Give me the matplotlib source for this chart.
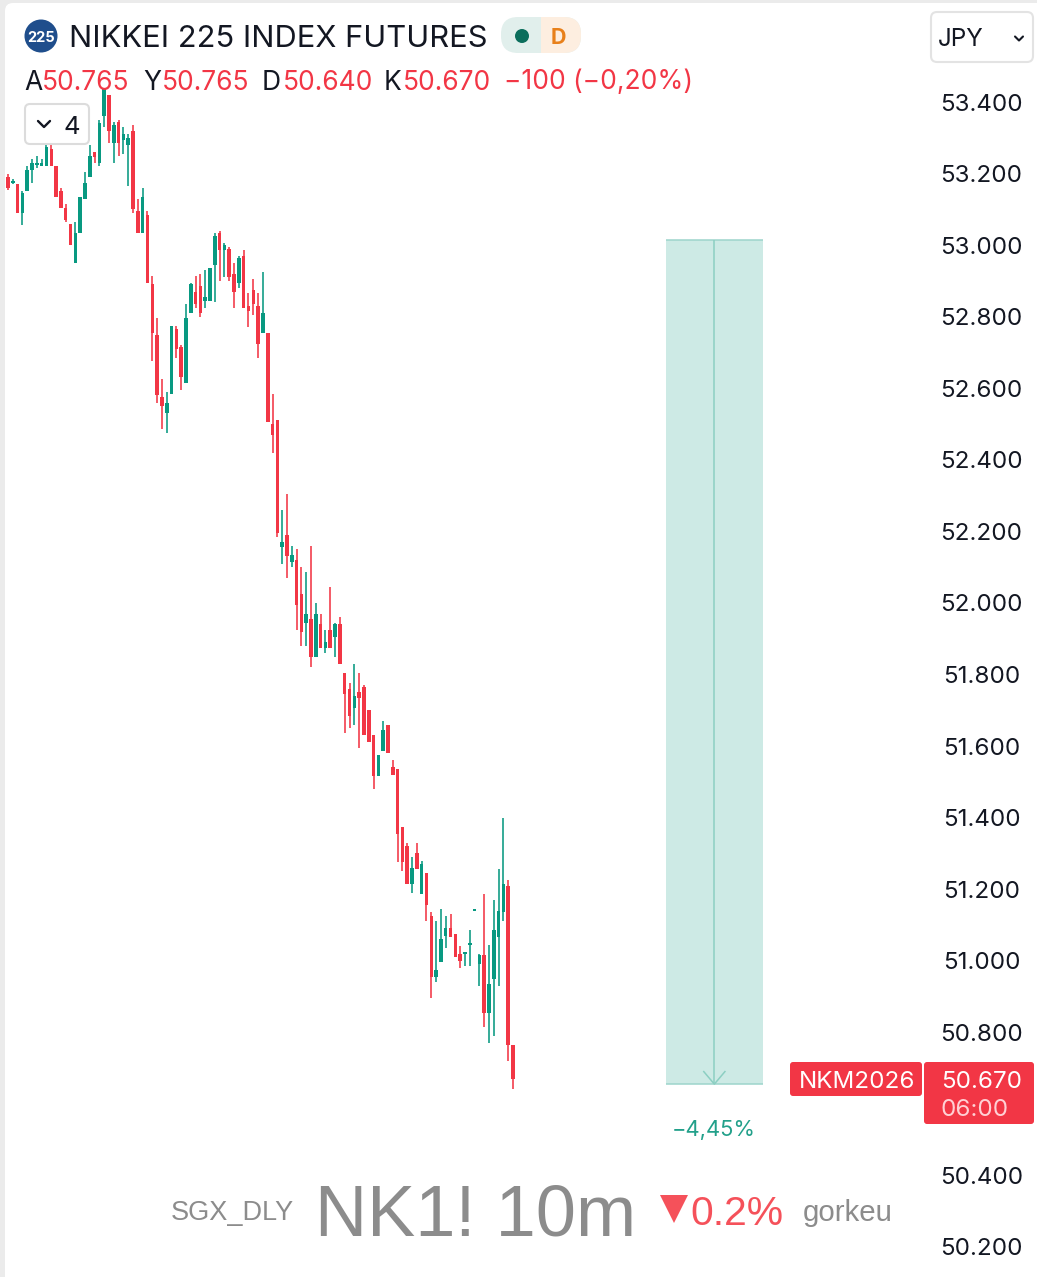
import matplotlib
matplotlib.use("Agg")
import matplotlib.pyplot as plt
from matplotlib.patches import FancyBboxPatch, Circle, Rectangle

W, H = 1037, 1277
RED = "#f23645"
GREEN = "#089981"

opens = [53190,53175,53170,53090,53150,53210,53225,53220,53220,53270,
         53220,53150,53105,53060,52950,53035,53130,53190,53260,53230,
         53360,53420,53285,53345,53295,53280,53320,53095,53035,53085,
         52890,52750,52575,52530,52585,52765,52715,52615,52810,52870,
         52885,52845,52845,52945,53035,52985,52990,52920,52895,52970,
         52830,52875,52830,52755,52755,52500,52510,52155,52190,52115,
         52120,52025,51945,51955,51850,51940,51875,51925,51905,51940,
         51805,51760,51705,51750,51765,51700,51630,51515,51585,51660,
         51540,51535,51375,51320,51215,51300,51185,51245,51125,50955,
         50995,51070,51090,51075,51020,51020,51045,51140,50990,51015,
         50855,50950,51065,51135,51210,50765]
highs = [53200,53185,53170,53150,53220,53240,53250,53240,53280,53280,
         53220,53160,53115,53060,53065,53135,53205,53280,53260,53350,
         53440,53420,53345,53350,53330,53310,53335,53130,53160,53095,
         52915,52795,52625,52590,52775,52775,52720,52835,52895,52915,
         52920,52930,52935,53035,53040,53005,52995,52950,52970,52985,
         52865,52905,52865,52925,52755,52585,52510,52260,52305,52160,
         52150,52100,52085,52160,52000,51970,51925,52045,51945,51960,
         51805,51775,51830,51805,51770,51700,51630,51575,51670,51660,
         51560,51535,51375,51330,51290,51330,51280,51245,51135,51110,
         51145,51125,51130,51075,51040,51025,51085,51145,51020,51185,
         51045,51170,51255,51400,51225,50765]
lows = [53155,53170,53090,53055,53150,53175,53215,53220,53220,53220,
        53135,53105,53065,53000,52950,53035,53130,53190,53230,53220,
        53330,53285,53230,53250,53255,53165,53090,53035,53035,52895,
        52675,52560,52485,52475,52585,52685,52595,52615,52810,52825,
        52800,52825,52845,52840,52900,52910,52900,52825,52880,52825,
        52770,52805,52685,52755,52505,52420,52185,52110,52070,52100,
        51925,51880,51880,51820,51850,51875,51860,51875,51850,51830,
        51635,51650,51660,51595,51630,51610,51480,51515,51585,51580,
        51520,51275,51250,51215,51190,51255,51185,51110,50895,50940,
        50995,51035,51065,51010,50980,50985,50985,51140,50930,50815,
        50770,50790,50930,51110,50720,50640]
closes = [53160,53180,53090,53145,53210,53230,53230,53230,53275,53220,
          53135,53105,53070,53000,53035,53135,53175,53250,53245,53340,
          53435,53320,53335,53285,53310,53300,53100,53035,53135,52895,
          52755,52580,52550,52560,52775,52710,52630,52795,52890,52835,
          52810,52855,52935,53025,52985,53000,52910,52870,52965,52825,
          52815,52835,52725,52810,52505,52470,52195,52170,52130,52135,
          51995,51920,51970,51850,51970,51875,51890,51875,51940,51830,
          51745,51685,51740,51735,51630,51610,51515,51575,51645,51580,
          51520,51355,51275,51215,51260,51255,51270,51155,50955,50975,
          51060,51090,51065,51010,51000,51025,51050,51145,51015,50855,
          50935,51085,51140,51215,50765,50670]

price_ticks = [50200,50400,50800,51000,51200,51400,51600,51800,52000,52200,
               52400,52600,52800,53000,53200,53400]
measure_top = 53015
measure_bottom = 50655
measure_start = 136.8
measure_end = 156.9
measure_label = "\u22124,45%"
last_label = "50.670"
countdown = "06:00"
symbol_tag = "NKM2026"

plt.rcParams["font.family"] = ["Inter", "DejaVu Sans"]

fig = plt.figure(figsize=(W / 100, H / 100), dpi=100, facecolor="#ebebeb")

# overlay in pixel coordinates for the interface furniture
ui = fig.add_axes([0, 0, 1, 1], zorder=0)
ui.set_xlim(0, W); ui.set_ylim(H, 0); ui.axis("off")
ui.add_patch(FancyBboxPatch((5, 3), W + 40, H + 40,
                            boxstyle="round,pad=0,rounding_size=8",
                            fc="white", ec="none"))

# price axes
ax = fig.add_axes([0, 0, 925 / W, 1], zorder=1)
ax.patch.set_alpha(0)
ax.set_xlim(-8 / 4.81, (925 - 8) / 4.81)
ax.set_ylim(53685.1 - 2.795 * H, 53685.1)
for s in ax.spines.values():
    s.set_visible(False)
ax.xaxis.set_visible(False)
ax.yaxis.tick_right()
ax.set_yticks(price_ticks)
ax.set_yticklabels([f"{p // 1000}.{p % 1000:03d}" for p in price_ticks], ha="center")
ax.tick_params(axis="y", length=0, pad=40.7, labelsize=17.4, labelcolor="#131722")

# measure tool
ax.add_patch(Rectangle((measure_start, measure_bottom), measure_end - measure_start,
                       measure_top - measure_bottom, fc="#cdeae5", ec="none", zorder=1))
mid = (measure_start + measure_end) / 2
ax.hlines([measure_top, measure_bottom], measure_start, measure_end, color="#9dd5cb", lw=1.1, zorder=2)
ax.vlines(mid, measure_bottom, measure_top, color="#8ccfc2", lw=1.1, zorder=2)
ax.plot([mid - 2.2, mid, mid + 2.2], [measure_bottom + 35, measure_bottom, measure_bottom + 35],
        color="#8ccfc2", lw=1.1, zorder=2)

# candles
xs = list(range(len(opens)))
colors = [RED if c < o else GREEN for o, c in zip(opens, closes)]
ax.vlines(xs, lows, highs, colors=colors, lw=1.15, zorder=3)
ax.bar(xs, [abs(c - o) for o, c in zip(opens, closes)],
       bottom=[min(o, c) for o, c in zip(opens, closes)],
       width=0.74, color=colors, lw=0, zorder=4)

# overlay above the candles
top = fig.add_axes([0, 0, 1, 1], zorder=2)
top.set_xlim(0, W); top.set_ylim(H, 0); top.axis("off")

def box(x0, y0, x1, y1, fc, ec="none", r=4, lw=1.5):
    top.add_patch(FancyBboxPatch((x0, y0), x1 - x0, y1 - y0,
                                 boxstyle=f"round,pad=0,rounding_size={r}",
                                 fc=fc, ec=ec, lw=lw))

def txt(x, y, s, size, color="#131722", ha="left", **kw):
    top.text(x, y, s, fontsize=size, color=color, ha=ha, va="center_baseline", **kw)

# header
top.add_patch(Circle((41, 36), 16.5, fc="#1f4e8c", ec="none"))
txt(41, 36, "225", 10.5, "white", ha="center", fontweight="bold")
txt(69, 36, "NIKKEI 225 INDEX FUTURES", 22.2, "#131722")

box(501, 17, 581, 53, "#e1efec", r=17)
pill_r = FancyBboxPatch((501, 17), 80, 36, boxstyle="round,pad=0,rounding_size=17", fc="#fdeee0", ec="none")
top.add_patch(pill_r)
pill_r.set_clip_path(Rectangle((541, 0), 60, 80, transform=top.transData))
top.add_patch(Circle((522, 36), 7, fc="#0b6e5c", ec="none"))
txt(558, 36, "D", 15.5, "#e8801a", ha="center", fontweight="bold")

# OHLC legend
for x, s, c in [(24, "A", "#131722"), (42, "50.765", RED), (143, "Y", "#131722"), (162, "50.765", RED),
                (262, "D", "#131722"), (283, "50.640", RED), (384, "K", "#131722"), (403, "50.670", RED),
                (504, "\u2212100 (\u22120,20%)", RED)]:
    txt(x, 79.5, s, 19, c)

# collapse button
box(25, 104, 89, 144, "white", "#dcdcdc", r=5)
top.plot([38, 44, 50], [121, 127, 121], color="#131722", lw=1.7, solid_capstyle="round")
txt(63.5, 125, "4", 18.5)

# currency button
box(931, 12, 1033, 62, "white", "#e3e3e3", r=6)
txt(938, 37, "JPY", 17.5)
top.plot([1015, 1019, 1023], [36.5, 40.5, 36.5], color="#131722", lw=1.5, solid_capstyle="round")

# measure label
txt(714, 1128, measure_label, 15.8, "#22a08a", ha="center")

# last price tags
box(790, 1062, 922, 1096, RED, r=3)
txt(799, 1080, symbol_tag, 17.4, "white")
box(924, 1062, 1034, 1124, RED, r=3)
txt(941, 1080, last_label, 17.4, "white")
txt(941, 1108, countdown, 17.4, "#ffd0d4")

# watermark
GREY = "#8c8c8c"
wm = ["Liberation Sans", "DejaVu Sans"]
txt(171, 1210, "SGX_DLY", 19.5, GREY, family=wm)
txt(315, 1210, "NK1! 10m", 52, GREY, family=wm)
top.plot([674], [1209], marker="v", ms=19.5, color="#f5515a", mew=0)
txt(690, 1210, "0.2%", 29.3, "#f5515a", family=wm)
txt(803, 1210, "gorkeu", 21.2, GREY, family=wm)

fig.savefig("out.png", dpi=100, facecolor=fig.get_facecolor())
